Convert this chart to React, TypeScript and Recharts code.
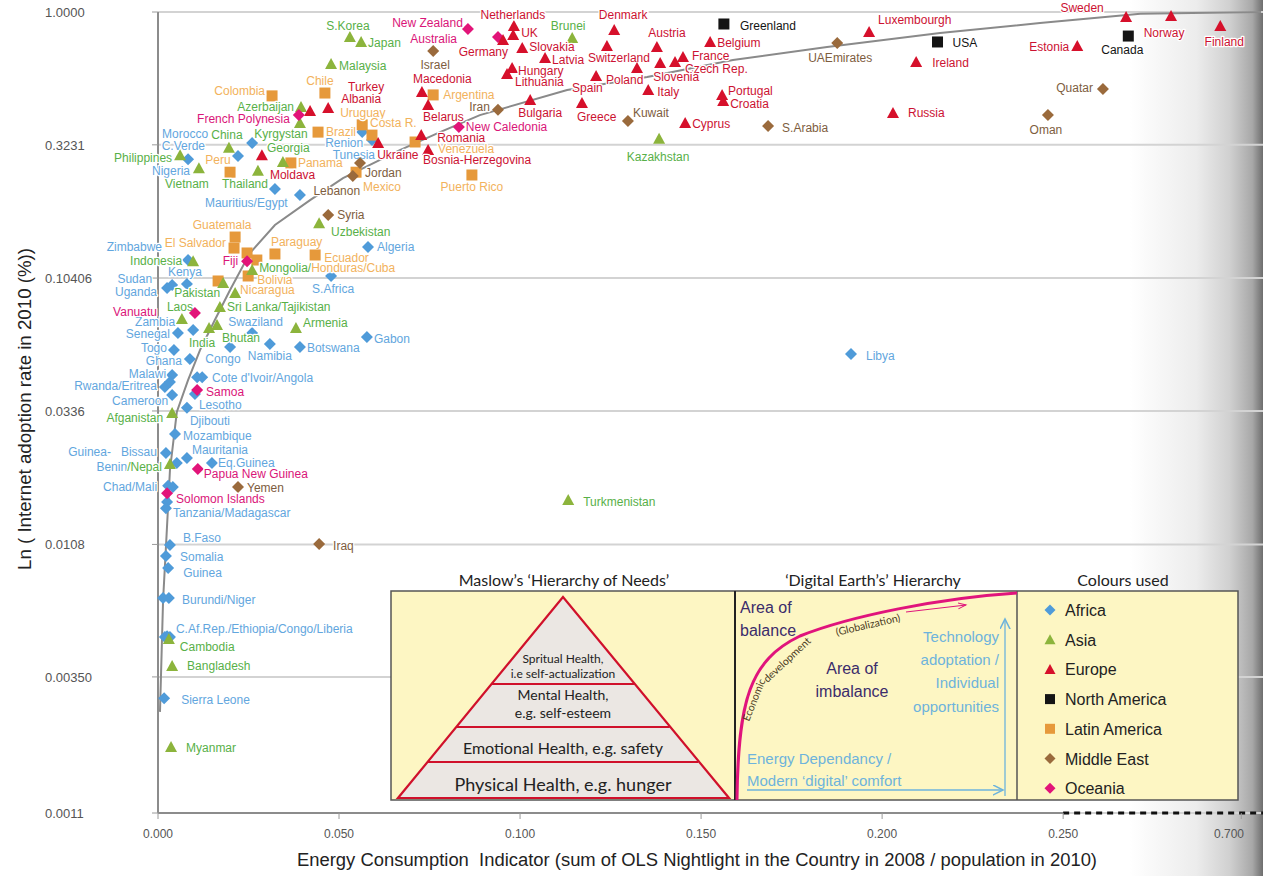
import React from 'react'
import { ScatterChart, Scatter, XAxis, YAxis, CartesianGrid, ReferenceLine } from 'recharts'

// the x axis is broken after 0.25: the 0.25 - 0.70 stretch is squeezed to the right edge
const BREAK = 0.25
const SQUEEZE = 0.10933
const toU = (x: number) => (x <= BREAK ? x : BREAK + (x - BREAK) * SQUEEZE)

const xTickValues = [0, 0.05, 0.1, 0.15, 0.2, 0.25, 0.7]
const xTickLabels = ['0.000', '0.050', '0.100', '0.150', '0.200', '0.250', '0.700']
const yTickValues = [0.0011, 0.0035, 0.0108, 0.0336, 0.10406, 0.3231, 1]
const yTickLabels = ['0.0011', '0.00350', '0.0108', '0.0336', '0.10406', '0.3231', '1.0000']

type Pt = { name: string; x: number; y: number }

const africa: Pt[] = [
  { name: 'Morocco', x: 0.026, y: 0.328 },
  { name: 'C.Verde', x: 0.0221, y: 0.294 },
  { name: 'Nigeria', x: 0.0083, y: 0.286 },
  { name: 'Mauritius', x: 0.0323, y: 0.222 },
  { name: 'Egypt', x: 0.0392, y: 0.211 },
  { name: 'Renion', x: 0.0564, y: 0.36 },
  { name: 'Tunesia', x: 0.0591, y: 0.337 },
  { name: 'Algeria', x: 0.058, y: 0.1355 },
  { name: 'Zimbabwe', x: 0.0083, y: 0.1213 },
  { name: 'Kenya', x: 0.008, y: 0.0989 },
  { name: 'Sudan', x: 0.0039, y: 0.0981 },
  { name: 'Uganda', x: 0.0025, y: 0.0956 },
  { name: 'S.Africa', x: 0.0478, y: 0.1059 },
  { name: 'Zambia', x: 0.0097, y: 0.0669 },
  { name: 'Senegal', x: 0.0055, y: 0.0652 },
  { name: 'Swaziland', x: 0.026, y: 0.0652 },
  { name: 'Gabon', x: 0.0577, y: 0.063 },
  { name: 'Botswana', x: 0.0392, y: 0.0579 },
  { name: 'Namibia', x: 0.0309, y: 0.0594 },
  { name: 'Congo', x: 0.0199, y: 0.0579 },
  { name: 'Togo', x: 0.0044, y: 0.0564 },
  { name: 'Ghana', x: 0.0088, y: 0.0523 },
  { name: "Cote d'Ivoir", x: 0.0108, y: 0.0448 },
  { name: 'Angola', x: 0.0122, y: 0.0448 },
  { name: 'Malawi', x: 0.0039, y: 0.0456 },
  { name: 'Rwanda', x: 0.0019, y: 0.0412 },
  { name: 'Eritrea', x: 0.0033, y: 0.043 },
  { name: 'Cameroon', x: 0.0039, y: 0.0385 },
  { name: 'Lesotho', x: 0.0102, y: 0.0388 },
  { name: 'Djibouti', x: 0.008, y: 0.0345 },
  { name: 'Mozambique', x: 0.0047, y: 0.0276 },
  { name: 'Guinea-Bissau', x: 0.0022, y: 0.0235 },
  { name: 'Mauritania', x: 0.008, y: 0.0225 },
  { name: 'Eq.Guinea', x: 0.0149, y: 0.0216 },
  { name: 'Benin', x: 0.0052, y: 0.0216 },
  { name: 'Chad', x: 0.0028, y: 0.0178 },
  { name: 'Mali', x: 0.0041, y: 0.0176 },
  { name: 'Tanzania', x: 0.0025, y: 0.0155 },
  { name: 'Madagascar', x: 0.0022, y: 0.0147 },
  { name: 'B.Faso', x: 0.0033, y: 0.01074 },
  { name: 'Somalia', x: 0.0022, y: 0.00979 },
  { name: 'Guinea', x: 0.0028, y: 0.00884 },
  { name: 'Burundi', x: 0.0014, y: 0.00685 },
  { name: 'Niger', x: 0.003, y: 0.00685 },
  { name: 'C.Af.Rep.', x: 0.0019, y: 0.00491 },
  { name: 'Ethiopia', x: 0.0033, y: 0.00491 },
  { name: 'Congo DR', x: 0.0025, y: 0.00495 },
  { name: 'Liberia', x: 0.003, y: 0.00488 },
  { name: 'Sierra Leone', x: 0.0017, y: 0.00292 },
  { name: 'Libya', x: 0.1914, y: 0.0546 },
]

const asia: Pt[] = [
  { name: 'S.Korea', x: 0.053, y: 0.809 },
  { name: 'Japan', x: 0.0561, y: 0.775 },
  { name: 'Malaysia', x: 0.0478, y: 0.643 },
  { name: 'Brunei', x: 0.1144, y: 0.802 },
  { name: 'Azerbaijan', x: 0.0395, y: 0.446 },
  { name: 'Kyrgyzstan', x: 0.0392, y: 0.389 },
  { name: 'China', x: 0.0196, y: 0.315 },
  { name: 'Philippines', x: 0.0061, y: 0.296 },
  { name: 'Georgia', x: 0.0345, y: 0.279 },
  { name: 'Vietnam', x: 0.0113, y: 0.265 },
  { name: 'Thailand', x: 0.0276, y: 0.259 },
  { name: 'Kazakhstan', x: 0.1384, y: 0.34 },
  { name: 'Uzbekistan', x: 0.0445, y: 0.166 },
  { name: 'Indonesia', x: 0.0097, y: 0.12 },
  { name: 'Mongolia', x: 0.026, y: 0.1114 },
  { name: 'Pakistan', x: 0.018, y: 0.0998 },
  { name: 'Sri Lanka', x: 0.0213, y: 0.0917 },
  { name: 'Tajikistan', x: 0.0171, y: 0.0814 },
  { name: 'Laos', x: 0.0066, y: 0.0735 },
  { name: 'India', x: 0.0141, y: 0.068 },
  { name: 'Bhutan', x: 0.0163, y: 0.0698 },
  { name: 'Armenia', x: 0.0381, y: 0.068 },
  { name: 'Afganistan', x: 0.0039, y: 0.033 },
  { name: 'Nepal', x: 0.0033, y: 0.0214 },
  { name: 'Turkmenistan', x: 0.1133, y: 0.01575 },
  { name: 'Cambodia', x: 0.003, y: 0.00483 },
  { name: 'Bangladesh', x: 0.0039, y: 0.00384 },
  { name: 'Myanmar', x: 0.0036, y: 0.00193 },
]

const europe: Pt[] = [
  { name: 'Netherlands', x: 0.0983, y: 0.888 },
  { name: 'UK', x: 0.0981, y: 0.822 },
  { name: 'Germany', x: 0.0953, y: 0.788 },
  { name: 'Slovakia', x: 0.1006, y: 0.736 },
  { name: 'Latvia', x: 0.1069, y: 0.676 },
  { name: 'Hungary', x: 0.0978, y: 0.621 },
  { name: 'Lithuania', x: 0.0964, y: 0.59 },
  { name: 'Denmark', x: 0.126, y: 0.858 },
  { name: 'Switzerland', x: 0.124, y: 0.749 },
  { name: 'Austria', x: 0.1378, y: 0.743 },
  { name: 'Belgium', x: 0.1525, y: 0.775 },
  { name: 'France', x: 0.145, y: 0.682 },
  { name: 'Czech Rep.', x: 0.1428, y: 0.654 },
  { name: 'Slovenia', x: 0.1387, y: 0.648 },
  { name: 'Poland', x: 0.1323, y: 0.621 },
  { name: 'Spain', x: 0.121, y: 0.58 },
  { name: 'Greece', x: 0.1171, y: 0.461 },
  { name: 'Italy', x: 0.1354, y: 0.515 },
  { name: 'Bulgaria', x: 0.1028, y: 0.473 },
  { name: 'Portugal', x: 0.1558, y: 0.494 },
  { name: 'Croatia', x: 0.1561, y: 0.469 },
  { name: 'Cyprus', x: 0.1456, y: 0.389 },
  { name: 'Macedonia', x: 0.0729, y: 0.506 },
  { name: 'Belarus', x: 0.0746, y: 0.453 },
  { name: 'Romania', x: 0.0727, y: 0.351 },
  { name: 'Bosnia-Herzegovina', x: 0.0746, y: 0.309 },
  { name: 'Ukraine', x: 0.0608, y: 0.328 },
  { name: 'Turkey', x: 0.042, y: 0.431 },
  { name: 'Albania', x: 0.047, y: 0.442 },
  { name: 'Moldava', x: 0.0287, y: 0.296 },
  { name: 'Luxembourgh', x: 0.1964, y: 0.844 },
  { name: 'Ireland', x: 0.2094, y: 0.654 },
  { name: 'Russia', x: 0.203, y: 0.424 },
  { name: 'Estonia', x: 0.2857, y: 0.749 },
  { name: 'Sweden', x: 0.409, y: 0.958 },
  { name: 'Norway', x: 0.5226, y: 0.967 },
  { name: 'Finland', x: 0.647, y: 0.888 },
]

const northAmerica: Pt[] = [
  { name: 'Greenland', x: 0.1563, y: 0.903 },
  { name: 'USA', x: 0.2153, y: 0.775 },
  { name: 'Canada', x: 0.4146, y: 0.815 },
]

const latinAmerica: Pt[] = [
  { name: 'Colombia', x: 0.0315, y: 0.49 },
  { name: 'Chile', x: 0.0461, y: 0.502 },
  { name: 'Brazil', x: 0.0442, y: 0.36 },
  { name: 'Uruguay', x: 0.0564, y: 0.383 },
  { name: 'Costa R.', x: 0.0591, y: 0.351 },
  { name: 'Argentina', x: 0.076, y: 0.494 },
  { name: 'Venezuela', x: 0.071, y: 0.331 },
  { name: 'Puerto Rico', x: 0.0867, y: 0.25 },
  { name: 'Panama', x: 0.0367, y: 0.277 },
  { name: 'Peru', x: 0.0199, y: 0.256 },
  { name: 'Mexico', x: 0.0547, y: 0.256 },
  { name: 'Guatemala', x: 0.0213, y: 0.1475 },
  { name: 'El Salvador', x: 0.021, y: 0.1343 },
  { name: 'Paraguay', x: 0.0323, y: 0.1277 },
  { name: 'Ecuador', x: 0.0434, y: 0.1266 },
  { name: 'Honduras', x: 0.0246, y: 0.1288 },
  { name: 'Cuba', x: 0.0273, y: 0.1213 },
  { name: 'Bolivia', x: 0.0249, y: 0.1059 },
  { name: 'Nicaragua', x: 0.0166, y: 0.1015 },
]

const middleEast: Pt[] = [
  { name: 'Israel', x: 0.076, y: 0.718 },
  { name: 'Iran', x: 0.0939, y: 0.435 },
  { name: 'Kuwait', x: 0.1298, y: 0.396 },
  { name: 'S.Arabia', x: 0.1685, y: 0.379 },
  { name: 'UAEmirates', x: 0.1876, y: 0.768 },
  { name: 'Quatar', x: 0.3506, y: 0.52 },
  { name: 'Oman', x: 0.2458, y: 0.416 },
  { name: 'Jordan', x: 0.0558, y: 0.277 },
  { name: 'Lebanon', x: 0.0538, y: 0.248 },
  { name: 'Syria', x: 0.047, y: 0.178 },
  { name: 'Yemen', x: 0.0221, y: 0.0176 },
  { name: 'Iraq', x: 0.0445, y: 0.01084 },
]

const oceania: Pt[] = [
  { name: 'New Zealand', x: 0.0856, y: 0.865 },
  { name: 'Australia', x: 0.0939, y: 0.809 },
  { name: 'French Polynesia', x: 0.0389, y: 0.416 },
  { name: 'New Caledonia', x: 0.0831, y: 0.376 },
  { name: 'Fiji', x: 0.0246, y: 0.12 },
  { name: 'Vanuatu', x: 0.0102, y: 0.0773 },
  { name: 'Samoa', x: 0.0108, y: 0.0402 },
  { name: 'Papua New Guinea', x: 0.011, y: 0.0205 },
  { name: 'Solomon Islands', x: 0.0025, y: 0.0167 },
]

// fitted curve
const trendX = [0.00055, 0.0011, 0.0014, 0.0022, 0.0033, 0.0052, 0.0083, 0.0116, 0.0157, 0.0199, 0.0254, 0.0323, 0.042, 0.0511, 0.0668, 0.0779, 0.0889, 0.113, 0.1351, 0.1588, 0.1848, 0.216, 0.2436, 0.445, 0.75]
const trendY = [0.0026, 0.0048, 0.0067, 0.0106, 0.0203, 0.0333, 0.0437, 0.0564, 0.0728, 0.094, 0.1288, 0.1634, 0.202, 0.2436, 0.309, 0.36, 0.416, 0.515, 0.575, 0.665, 0.742, 0.836, 0.911, 0.985, 1.0]

type Anchor = 'start' | 'middle' | 'end'

// where each country name sits relative to its marker (dx, dy to baseline)
const labelSpot: Record<string, [number, number, Anchor]> = {
  Morocco: [-44, -5, 'end'], 'C.Verde': [-33, -6, 'end'], Nigeria: [2, 16, 'end'],
  Mauritius: [-70, 18, 'start'], Renion: [1, 15, 'end'], Tunesia: [3, 19, 'end'],
  Algeria: [9, 4, 'start'], Zimbabwe: [-26, -9, 'end'], Kenya: [-2, -8, 'middle'],
  Sudan: [-20, -2, 'end'], Uganda: [-10, 8, 'end'], 'S.Africa': [2, 17, 'middle'],
  Zambia: [-18, -4, 'end'], Senegal: [-8, 5, 'end'], Swaziland: [-24, -7, 'start'],
  Gabon: [7, 6, 'start'], Botswana: [7, 5, 'start'], Namibia: [0, 16, 'middle'],
  Congo: [-7, 16, 'middle'], Togo: [-7, 2, 'end'], Ghana: [-8, 6, 'end'],
  "Cote d'Ivoir": [15, 5, 'start'], Malawi: [-6, 3, 'end'], Rwanda: [-8, 3, 'end'],
  Cameroon: [-4, 10, 'end'], Lesotho: [4, 15, 'start'], Djibouti: [3, 17, 'start'],
  Mozambique: [8, 6, 'start'], 'Guinea-Bissau': [-9, 3, 'end'], Mauritania: [5, -4, 'start'],
  'Eq.Guinea': [6, 4, 'start'], Benin: [-15, 8, 'end'], Chad: [-11, 5, 'end'],
  Tanzania: [6, 15, 'start'], 'B.Faso': [13, -3, 'start'], Somalia: [14, 5, 'start'],
  Guinea: [15, 9, 'start'], Burundi: [19, 6, 'start'], 'C.Af.Rep.': [11, -4, 'start'],
  'Sierra Leone': [17, 6, 'start'], Libya: [15, 6, 'start'],

  'S.Korea': [-2, -7, 'middle'], Japan: [7, 5, 'start'], Malaysia: [8, 6, 'start'],
  Brunei: [-4, -8, 'middle'], Azerbaijan: [-7, 4, 'end'], Kyrgyzstan: [-19, 15, 'middle'],
  China: [-2, -9, 'middle'], Philippines: [-8, 7, 'end'], Georgia: [-16, -10, 'start'],
  Vietnam: [-12, 20, 'middle'], Thailand: [-13, 17, 'middle'], Kazakhstan: [-1, 22, 'middle'],
  Uzbekistan: [12, 13, 'start'], Indonesia: [-11, 4, 'end'], Mongolia: [7, 2, 'start'],
  Pakistan: [-26, 14, 'middle'], 'Sri Lanka': [-8, 18, 'start'], Laos: [-2, -8, 'middle'],
  India: [-7, 19, 'middle'], Bhutan: [5, 17, 'start'], Armenia: [7, -1, 'start'],
  Afganistan: [-9, 9, 'end'], Turkmenistan: [15, 6, 'start'], Cambodia: [11, 12, 'start'],
  Bangladesh: [15, 4, 'start'], Myanmar: [15, 5, 'start'],

  Netherlands: [-1, -7, 'middle'], UK: [8, 2, 'start'], Germany: [5, 16, 'end'],
  Slovakia: [7, 3, 'start'], Latvia: [7, 6, 'start'], Hungary: [6, 7, 'start'],
  Lithuania: [8, 12, 'start'], Denmark: [9, -11, 'middle'], Switzerland: [-19, 16, 'start'],
  Austria: [10, -10, 'middle'], Belgium: [7, 5, 'start'], France: [9, 3, 'start'],
  'Czech Rep.': [10, 11, 'start'], Slovenia: [-7, 18, 'start'], Poland: [-31, 16, 'start'],
  Spain: [-24, 16, 'start'], Greece: [-5, 18, 'start'], Italy: [9, 6, 'start'],
  Bulgaria: [10, 17, 'middle'], Portugal: [6, 0, 'start'], Croatia: [7, 7, 'start'],
  Cyprus: [7, 5, 'start'], Macedonia: [-9, -9, 'start'], Belarus: [-5, 16, 'start'],
  Romania: [16, 7, 'start'], 'Bosnia-Herzegovina': [-5, 14, 'start'], Ukraine: [-1, 16, 'start'],
  Turkey: [38, -20, 'start'], Albania: [13, -5, 'start'], Moldava: [8, 24, 'start'],
  Luxembourgh: [9, -8, 'start'], Ireland: [16, 5, 'start'], Russia: [15, 4, 'start'],
  Estonia: [-8, 5, 'end'], Sweden: [-44, -5, 'middle'], Norway: [-7, 21, 'middle'],
  Finland: [4, 20, 'middle'],

  Greenland: [16, 6, 'start'], USA: [15, 5, 'start'], Canada: [-6, 18, 'middle'],

  Colombia: [-7, -1, 'end'], Chile: [-5, -8, 'middle'], Brazil: [8, 4, 'start'],
  Uruguay: [-22, -8, 'start'], 'Costa R.': [-2, -8, 'start'], Argentina: [10, 4, 'start'],
  Venezuela: [23, 11, 'start'], 'Puerto Rico': [0, 16, 'middle'], Panama: [7, 4, 'start'],
  Peru: [-12, -8, 'middle'], Mexico: [7, 19, 'start'], Guatemala: [-13, -8, 'middle'],
  'El Salvador': [-8, -1, 'end'], Paraguay: [-4, -8, 'start'], Ecuador: [9, 7, 'start'],
  Bolivia: [9, 8, 'start'], Nicaragua: [22, 13, 'start'],

  Israel: [2, 18, 'middle'], Iran: [-8, 1, 'end'], Kuwait: [5, -4, 'start'],
  'S.Arabia': [14, 6, 'start'], UAEmirates: [3, 19, 'middle'], Quatar: [-10, 3, 'end'],
  Oman: [-2, 19, 'middle'], Jordan: [5, 14, 'start'], Lebanon: [-16, 19, 'middle'],
  Syria: [9, 4, 'start'], Yemen: [9, 5, 'start'], Iraq: [14, 6, 'start'],

  'New Zealand': [-5, -2, 'end'], Australia: [-41, 6, 'end'], 'French Polynesia': [-9, 8, 'end'],
  'New Caledonia': [7, 4, 'start'], Fiji: [-9, 4, 'end'], Vanuatu: [-38, 3, 'end'],
  Samoa: [9, 6, 'start'], 'Papua New Guinea': [6, 9, 'start'], 'Solomon Islands': [9, 10, 'start'],
}

// grouped labels
const labelText: Record<string, string> = {
  Mauritius: 'Mauritius/Egypt',
  Kyrgyzstan: 'Kyrgystan',
  "Cote d'Ivoir": "Cote d'Ivoir/Angola",
  Rwanda: 'Rwanda/Eritrea',
  Chad: 'Chad/Mali',
  Tanzania: 'Tanzania/Madagascar',
  Burundi: 'Burundi/Niger',
  'C.Af.Rep.': 'C.Af.Rep./Ethiopia/Congo/Liberia',
  'Sri Lanka': 'Sri Lanka/Tajikistan',
  'Guinea-Bissau': 'Guinea-\u00a0\u00a0\u00a0Bissau',
  Mongolia: 'Mongolia/',
}

const COLORS = {
  africa: ['#4f9bd9', '#62a6de'],
  asia: ['#8cb43c', '#58b048'],
  europe: ['#d6102b', '#cc1232'],
  northAmerica: ['#141414', '#141414'],
  latin: ['#e6993b', '#f2b25c'],
  middleEast: ['#9a6a3c', '#7e5d3e'],
  oceania: ['#e21479', '#da1579'],
}

// second part of a label that belongs to another region
const labelTail: Record<string, [string, string]> = {
  Mongolia: ['Honduras/Cuba', COLORS.latin[1]],
  Benin: ['/Nepal', COLORS.asia[1]],
}

type Kind = 'diamond' | 'triangle' | 'square'

function Marker({ kind, cx, cy, fill, s = 6 }: { kind: Kind; cx: number; cy: number; fill: string; s?: number }) {
  if (kind === 'diamond') {
    return <polygon points={`${cx},${cy - s} ${cx + s},${cy} ${cx},${cy + s} ${cx - s},${cy}`} fill={fill} />
  }
  if (kind === 'triangle') {
    return <polygon points={`${cx},${cy - s} ${cx + s},${cy + s - 1} ${cx - s},${cy + s - 1}`} fill={fill} />
  }
  return <rect x={cx - s + 0.5} y={cy - s + 0.5} width={2 * s - 1} height={2 * s - 1} fill={fill} />
}

function pointShape(kind: Kind, fill: string, ink: string) {
  return (props: any) => {
    const { cx, cy, payload } = props
    if (cx == null || cy == null) return <g />
    const spot = labelSpot[payload.name]
    const tail = labelTail[payload.name]
    return (
      <g>
        <Marker kind={kind} cx={cx} cy={cy} fill={fill} />
        {spot && (
          <text
            x={cx + spot[0]}
            y={cy + spot[1]}
            textAnchor={spot[2]}
            fontSize={12}
            fill={ink}
            stroke='#fff'
            strokeWidth={2.5}
            strokeLinejoin='round'
            paintOrder='stroke'
          >
            {labelText[payload.name] ?? payload.name}
            {tail && <tspan fill={tail[1]}>{tail[0]}</tspan>}
          </text>
        )}
      </g>
    )
  }
}

const withU = (pts: Pt[]) => pts.map((p) => ({ ...p, u: toU(p.x) }))
const trend = trendX.map((x, i) => ({ u: toU(x), y: trendY[i] }))

const series: { key: string; data: Pt[]; kind: Kind; colors: string[] }[] = [
  { key: 'Africa', data: africa, kind: 'diamond', colors: COLORS.africa },
  { key: 'Latin America', data: latinAmerica, kind: 'square', colors: COLORS.latin },
  { key: 'Middle East', data: middleEast, kind: 'diamond', colors: COLORS.middleEast },
  { key: 'Asia', data: asia, kind: 'triangle', colors: COLORS.asia },
  { key: 'Oceania', data: oceania, kind: 'diamond', colors: COLORS.oceania },
  { key: 'Europe', data: europe, kind: 'triangle', colors: COLORS.europe },
  { key: 'North America', data: northAmerica, kind: 'square', colors: COLORS.northAmerica },
]

const legendItems: { label: string; kind: Kind; color: string }[] = [
  { label: 'Africa', kind: 'diamond', color: COLORS.africa[0] },
  { label: 'Asia', kind: 'triangle', color: COLORS.asia[0] },
  { label: 'Europe', kind: 'triangle', color: COLORS.europe[0] },
  { label: 'North America', kind: 'square', color: COLORS.northAmerica[0] },
  { label: 'Latin America', kind: 'square', color: COLORS.latin[0] },
  { label: 'Middle East', kind: 'diamond', color: COLORS.middleEast[0] },
  { label: 'Oceania', kind: 'diamond', color: COLORS.oceania[0] },
]

// words written along the "economic development" curve: text, centre x, centre y, angle
const econWords: [string, number, number, number][] = [
  ['Economic', 754, 700, -68],
  ['development', 787, 660, -43],
  ['(Globalization)', 868, 625, -13],
]

const XTick = ({ x, payload }: any) => (
  <text x={x} y={838} textAnchor='middle' fontSize={12} fill='#555'>
    {xTickLabels[payload.index]}
  </text>
)

const YTick = ({ y, payload }: any) => (
  <text x={45} y={y + 5} textAnchor='start' fontSize={13} fill='#555'>
    {yTickLabels[payload.index]}
  </text>
)

function Inset() {
  const humanist = 'Lato, "Open Sans", sans-serif'
  const blue = '#6db3dc'
  const pink = '#e0147c'
  return (
    <svg width={1263} height={876} style={{ position: 'absolute', left: 0, top: 0, pointerEvents: 'none' }}>
      <defs>
        <marker id='arrBlue' markerWidth='10' markerHeight='10' refX='8' refY='4' orient='auto'>
          <path d='M0,0 L8,4 L0,8' fill='none' stroke={blue} strokeWidth='1.2' />
        </marker>
        <marker id='arrPink' markerWidth='10' markerHeight='10' refX='8' refY='4' orient='auto'>
          <path d='M0,1 L8,4 L0,7' fill='none' stroke={pink} strokeWidth='1' />
        </marker>
      </defs>

      {/* axis titles */}
      <text transform='translate(31,409) rotate(-90)' textAnchor='middle' fontSize={18} fill='#222' textLength={322} lengthAdjust='spacingAndGlyphs'>
        Ln ( Internet adoption rate in 2010 (%))
      </text>
      <text x={697} y={866} textAnchor='middle' fontSize={18} fill='#222' textLength={800} lengthAdjust='spacingAndGlyphs'>
        Energy Consumption{'\u00a0'} Indicator (sum of OLS Nightlight in the Country in 2008 / population in 2010)
      </text>

      {/* inset panels */}
      <rect x={391} y={591} width={847} height={209} fill='#fdf6c3' stroke='#555' strokeWidth={1.5} />
      <line x1={735} y1={591} x2={735} y2={800} stroke='#222' strokeWidth={2} />
      <line x1={1017} y1={591} x2={1017} y2={800} stroke='#555' strokeWidth={1.5} />

      <g fontFamily={humanist} fill='#222' textAnchor='middle'>
        <text x={564} y={586} fontSize={16}>Maslow’s ‘Hierarchy of Needs’</text>
        <text x={873} y={586} fontSize={16}>‘Digital Earth’s’ Hierarchy</text>
        <text x={1123} y={586} fontSize={16}>Colours used</text>
      </g>

      {/* Maslow pyramid */}
      <polygon points='563,597 398,798 729,798' fill='#ebe7e3' stroke='#d0112b' strokeWidth={2.2} />
      <line x1={491.6} y1={684} x2={634.4} y2={684} stroke='#d0112b' strokeWidth={2} />
      <line x1={456.3} y1={727} x2={669.7} y2={727} stroke='#d0112b' strokeWidth={2} />
      <line x1={427.6} y1={762} x2={698.4} y2={762} stroke='#d0112b' strokeWidth={2} />
      <g fontFamily={humanist} fill='#222' textAnchor='middle'>
        <text x={563} y={663} fontSize={12}>Spritual Health,</text>
        <text x={563} y={678} fontSize={12}>i.e self-actualization</text>
        <text x={563} y={700} fontSize={14}>Mental Health,</text>
        <text x={563} y={718} fontSize={14}>e.g. self-esteem</text>
        <text x={563} y={754} fontSize={16}>Emotional Health, e.g. safety</text>
        <text x={563} y={791} fontSize={18}>Physical Health, e.g. hunger</text>
      </g>

      {/* Digital Earth hierarchy */}
      <path d='M737,800 C738,700 750,660 800,636 C850,616 940,598 1017,593' fill='none' stroke={pink} strokeWidth={3} />
      {econWords.map(([w, x, y, a]) => (
        <text
          key={w}
          transform={`translate(${x},${y}) rotate(${a})`}
          y={3.5}
          textAnchor='middle'
          fontFamily={humanist}
          fontSize={10.5}
          fill='#4a3a22'
        >
          {w}
        </text>
      ))}
      <line x1={906} y1={612} x2={966} y2={605} stroke={pink} strokeWidth={1} markerEnd='url(#arrPink)' />
      <g fontSize={16} fill='#3b2c6b'>
        <text x={740} y={613}>Area of</text>
        <text x={740} y={636}>balance</text>
        <text x={852} y={674} textAnchor='middle'>Area of</text>
        <text x={852} y={697} textAnchor='middle'>imbalance</text>
      </g>
      <g fontSize={15} fill={blue} textAnchor='end'>
        <text x={999} y={642}>Technology</text>
        <text x={999} y={665}>adoptation /</text>
        <text x={999} y={688}>Individual</text>
        <text x={999} y={712}>opportunities</text>
      </g>
      <g fontSize={15} fill={blue}>
        <text x={747} y={764}>Energy Dependancy /</text>
        <text x={747} y={786}>Modern ‘digital’ comfort</text>
      </g>
      <line x1={1005} y1={796} x2={1005} y2={619} stroke={blue} strokeWidth={1.3} markerEnd='url(#arrBlue)' />
      <line x1={747} y1={790} x2={1003} y2={790} stroke={blue} strokeWidth={1.3} markerEnd='url(#arrBlue)' />

      {/* colours used */}
      {legendItems.map((it, i) => (
        <g key={it.label}>
          <Marker kind={it.kind} cx={1050} cy={610 + i * 29.7} fill={it.color} s={5.5} />
          <text x={1065} y={616 + i * 29.7} fontSize={16} fill='#222'>
            {it.label}
          </text>
        </g>
      ))}
    </svg>
  )
}

export default function App() {
  return (
    <div
      style={{
        position: 'absolute',
        left: 0,
        top: 0,
        width: 1263,
        height: 876,
        background: '#fff',
        fontFamily: '"Liberation Sans", Arial, sans-serif',
        overflow: 'hidden',
      }}
    >
      <div
        style={{
          position: 'absolute',
          left: 1130,
          top: 0,
          width: 133,
          height: 876,
          background: 'linear-gradient(to right, rgba(255,255,255,0) 0%, #ececec 50%, #d0d0d0 75%, #a8a8a8 92%, #6e6e6e 100%)',
        }}
      />
      <div style={{ position: 'absolute', left: 0, top: 0 }}>
        <ScatterChart width={1263} height={876} margin={{ top: 12, right: 0, bottom: 0, left: 0 }}>
          <CartesianGrid vertical={false} stroke='#d3d3d3' strokeWidth={2} />
          <XAxis
            type='number'
            dataKey='u'
            domain={[0, 0.3052]}
            ticks={xTickValues.map(toU)}
            tick={<XTick />}
            tickLine={{ stroke: '#9a9a9a' }}
            tickSize={6}
            axisLine={false}
            height={63}
          />
          <YAxis
            type='number'
            dataKey='y'
            scale='log'
            domain={[0.0011, 1]}
            ticks={yTickValues}
            tick={<YTick />}
            tickLine={{ stroke: '#9a9a9a' }}
            axisLine={{ stroke: '#8c8c8c', strokeWidth: 2 }}
            width={158}
          />
          <ReferenceLine segment={[{ x: 0, y: 0.0011 }, { x: toU(0.25), y: 0.0011 }]} stroke='#8c8c8c' strokeWidth={2} />
          <ReferenceLine segment={[{ x: toU(0.25), y: 0.0011 }, { x: 0.3052, y: 0.0011 }]} stroke='#111' strokeWidth={3} strokeDasharray='6 5' />
          <Scatter
            data={trend}
            line={{ stroke: '#8a8a8a', strokeWidth: 2 }}
            lineType='joint'
            shape={() => <g />}
            isAnimationActive={false}
          />
          {series.map((s) => (
            <Scatter
              key={s.key}
              name={s.key}
              data={withU(s.data)}
              shape={pointShape(s.kind, s.colors[0], s.colors[1])}
              isAnimationActive={false}
            />
          ))}
        </ScatterChart>
      </div>
      <Inset />
    </div>
  )
}
